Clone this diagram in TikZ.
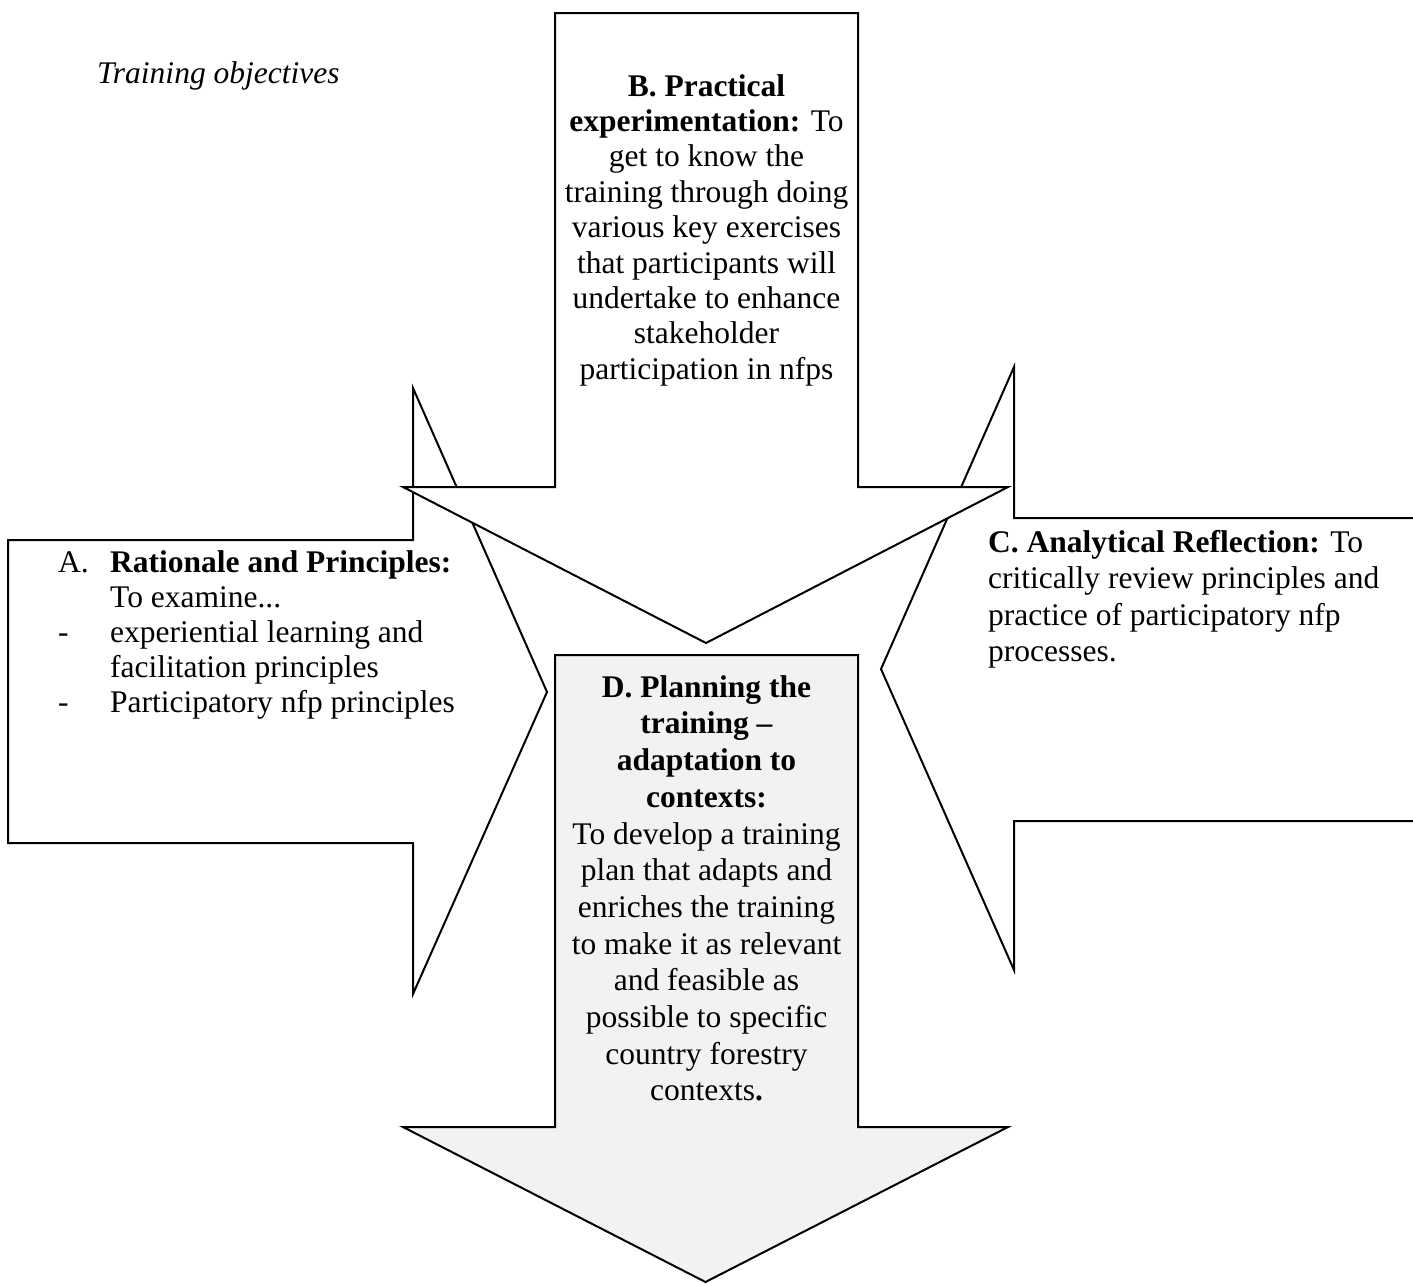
\documentclass[tikz,border=0pt]{standalone}
\usepackage{fontspec}
\setmainfont{Liberation Serif}
\definecolor{dgray}{HTML}{F2F2F2}
\begin{document}
\begin{tikzpicture}[x=1pt,y=-1pt,
  arrowshape/.style={draw=black, line width=2pt, fill=white, line join=miter},
  txt/.style={inner sep=0pt, text=black}]
\useasboundingbox (0,0) rectangle (1413,1283);
\clip (0,0) rectangle (1413,1283);
% A: arrow pointing right
\draw[arrowshape] (413,388) -- (547,692) -- (413,994) -- (413,843) -- (8,843) -- (8,540) -- (413,540) -- cycle;
% C: arrow pointing left
\draw[arrowshape] (1014,367) -- (1014,518) -- (1440,518) -- (1440,821) -- (1014,821) -- (1014,970) -- (881,669) -- cycle;
% B: arrow pointing down
\draw[arrowshape] (555,13) -- (858,13) -- (858,487) -- (1008,487) -- (706,643) -- (403,487) -- (555,487) -- cycle;
% D: grey arrow pointing down
\draw[arrowshape, fill=dgray] (555,655) -- (858,655) -- (858,1127) -- (1008,1127) -- (705.5,1282) -- (403,1127) -- (555,1127) -- cycle;

\node[txt, anchor=base west, font=\fontsize{31.5}{36}\selectfont\itshape] (title) at (97,83) {Training objectives};

\node[txt, anchor=north, align=center, font=\fontsize{31.5}{35.4}\selectfont] (Btext) at (706.5,71.2)
 {\strut\textbf{B. Practical}\\ \textbf{experimentation:} To\\ get to know the\\ training through doing\\ various key exercises\\ that participants will\\ undertake to enhance\\ stakeholder\\ participation in nfps};

\node[txt, anchor=north west, align=left, font=\fontsize{31.5}{35}\selectfont] (Alabels) at (58,547.5)
 {\strut A.\\ \strut\\ \strut-\\ \strut\\ \strut-};
\node[txt, anchor=north west, align=left, font=\fontsize{31.5}{35}\selectfont] (Atext) at (110,547.5)
 {\strut\textbf{Rationale and Principles:}\\ To examine...\\ experiential learning and\\ facilitation principles\\ Participatory nfp principles};

\node[txt, anchor=north west, align=left, font=\fontsize{31.5}{36.5}\selectfont] (Ctext) at (988,526.5)
 {\strut\textbf{C. Analytical Reflection:} To\\ critically review principles and\\ practice of participatory nfp\\ processes.};

\node[txt, anchor=north, align=center, font=\fontsize{31.5}{36.7}\selectfont] (Dtext) at (706.5,671.3)
 {\strut\textbf{D. Planning the}\\ \textbf{training –}\\ \textbf{adaptation to}\\ \textbf{contexts:}\\ To develop a training\\ plan that adapts and\\ enriches the training\\ to make it as relevant\\ and feasible as\\ possible to specific\\ country forestry\\ contexts\textbf{.}};
\end{tikzpicture}
\end{document}
